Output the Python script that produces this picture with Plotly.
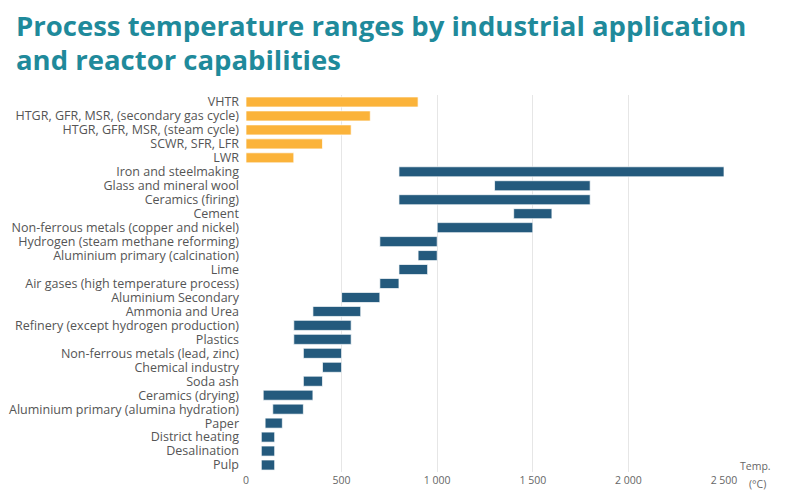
import plotly.graph_objects as go

# Reactor types: max outlet temperature (deg C)
reactors = ["VHTR", "HTGR, GFR, MSR, (secondary gas cycle)", "HTGR, GFR, MSR, (steam cycle)",
            "SCWR, SFR, LFR", "LWR"]
reactor_max = [900, 650, 550, 400, 250]

# Industrial applications: process temperature range (deg C)
industries = ["Iron and steelmaking", "Glass and mineral wool", "Ceramics (firing)", "Cement",
              "Non-ferrous metals (copper and nickel)", "Hydrogen (steam methane reforming)",
              "Aluminium primary (calcination)", "Lime", "Air gases (high temperature process)",
              "Aluminium Secondary", "Ammonia and Urea", "Refinery (except hydrogen production)",
              "Plastics", "Non-ferrous metals (lead, zinc)", "Chemical industry", "Soda ash",
              "Ceramics (drying)", "Aluminium primary (alumina hydration)", "Paper",
              "District heating", "Desalination", "Pulp"]
ind_low = [800, 1300, 800, 1400, 1000, 700, 900, 800, 700, 500, 350, 250,
           250, 300, 400, 300, 90, 140, 100, 80, 80, 80]
ind_high = [2500, 1800, 1800, 1600, 1500, 1000, 1000, 950, 800, 700, 600, 550,
            550, 500, 500, 400, 350, 300, 190, 150, 150, 150]

tick_vals = [0, 500, 1000, 1500, 2000, 2500]
tick_text = ["0", "500", "1 000", "1 500", "2 000", "2 500"]

categories = reactors + industries

fig = go.Figure()

fig.add_trace(go.Bar(
    y=reactors, x=reactor_max, base=[0] * len(reactors), orientation="h",
    marker=dict(color="#FBB33A", line=dict(color="rgba(255,255,255,0.7)", width=1)),
    name="Reactors", hoverinfo="x+y"
))

fig.add_trace(go.Bar(
    y=industries, x=[h - l for l, h in zip(ind_low, ind_high)], base=ind_low, orientation="h",
    marker=dict(color="#245A7D", line=dict(color="rgba(255,255,255,0.7)", width=1)),
    name="Industry", hoverinfo="y"
))

title_font = dict(family="Open Sans", size=27.5, color="#1F8A9B", weight="bold")
note_font = dict(family="Open Sans", size=10.5, color="#666666")

fig.update_layout(
    width=785, height=490,
    margin=dict(l=238, r=69, t=87, b=26, autoexpand=False),
    paper_bgcolor="white", plot_bgcolor="white",
    showlegend=False, barmode="overlay", bargap=0.28,
    font=dict(family="Open Sans", size=12, color="#555555"),
    annotations=[
        dict(text="Process temperature ranges by industrial application", xref="paper", yref="paper",
             x=-0.4854, y=1.185, xanchor="left", yanchor="middle", showarrow=False, font=title_font),
        dict(text="and reactor capabilities", xref="paper", yref="paper",
             x=-0.4854, y=1.095, xanchor="left", yanchor="middle", showarrow=False, font=title_font),
        dict(text="Temp.", xref="paper", yref="paper", x=1.065, y=0.016, xanchor="center",
             yanchor="middle", showarrow=False, font=note_font),
        dict(text="(°C)", xref="paper", yref="paper", x=1.071, y=-0.032, xanchor="center",
             yanchor="middle", showarrow=False, font=note_font),
    ]
)

fig.update_xaxes(
    range=[0, 2500], tickvals=tick_vals, ticktext=tick_text, automargin=False,
    showgrid=True, gridcolor="#E6E6E6", gridwidth=1, zeroline=False,
    showline=False, ticks="", tickfont=dict(size=10.5, color="#666666")
)
fig.update_yaxes(
    categoryorder="array", categoryarray=categories, autorange="reversed",
    tickmode="array", tickvals=categories, automargin=False,
    showgrid=False, ticks="", ticklabelstandoff=6,
    tickfont=dict(size=12.5, color="#555555")
)

fig.write_html("out.html")
